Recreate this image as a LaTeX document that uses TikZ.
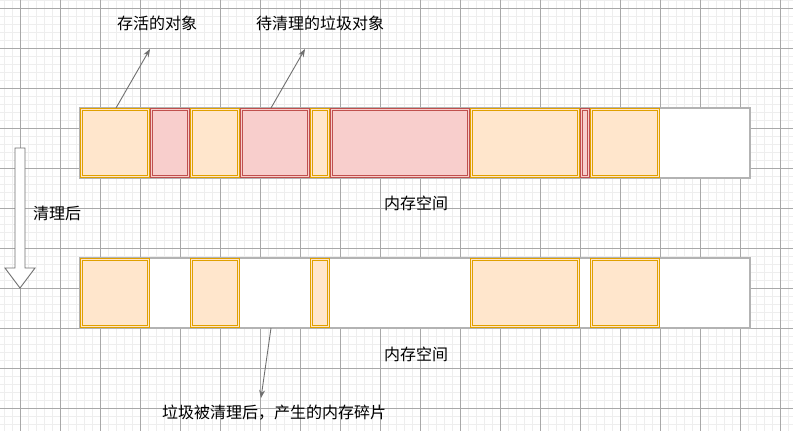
\documentclass[tikz,border=0pt]{standalone}
\usepackage{fontspec}
\setmainfont{Noto Sans CJK SC}
\usetikzlibrary{arrows.meta}
\definecolor{minorc}{HTML}{EEEEEE}
\definecolor{majorc}{HTML}{A8A8A8}
\definecolor{livefill}{HTML}{FFE6CC}
\definecolor{livedraw}{HTML}{E0A000}
\definecolor{deadfill}{HTML}{F8CECC}
\definecolor{deaddraw}{HTML}{C0504D}
\definecolor{barc}{HTML}{B3B3B3}
\definecolor{arrc}{HTML}{707070}
\tikzset{
  lbl/.style={font=\fontsize{16}{18}\selectfont, text=black, inner sep=0pt},
  bar/.style={draw=barc, line width=1.6pt, fill=white, inner sep=0pt, outer sep=0pt, minimum height=70pt, anchor=north west},
  live/.style={draw=livedraw, double=livefill, double distance=1.4pt, line width=0.9pt, fill=livefill, inner sep=0pt, outer sep=1.6pt, minimum height=66.8pt, anchor=center},
  dead/.style={draw=deaddraw, double=deadfill, double distance=1.4pt, line width=0.9pt, fill=deadfill, inner sep=0pt, outer sep=1.6pt, minimum height=66.8pt, anchor=center},
  ptr/.style={draw=arrc, line width=0.9pt, -{Stealth[length=8pt,width=6pt]}},
}
\newcommand{\blk}[5]{% style, name, x1, x2, ycenter
  \pgfmathsetmacro{\blkw}{#4-#3-3.2}
  \node[#1, minimum width=\blkw pt] (#2) at ({(#3+#4)/2},#5) {};
}
\begin{document}
\begin{tikzpicture}[x=1pt,y=-1pt]
\useasboundingbox (0,0) rectangle (793,431);
\fill[white] (0,0) rectangle (793,431);
% grid
\foreach \x in {4,12,...,796} \draw[minorc, line width=0.8pt] (\x,0) -- (\x,431);
\foreach \y in {0,8,...,432} \draw[minorc, line width=0.8pt] (0,\y) -- (793,\y);
\foreach \x in {20,60,...,780} \draw[majorc, line width=0.8pt] (\x,0) -- (\x,431);
\foreach \y in {8,48,...,408} \draw[majorc, line width=0.8pt] (0,\y) -- (793,\y);

% top bar
\node[bar, minimum width=670pt] (bar1) at (80,108) {};
\blk{live}{t1}{80}{150}{143}
\blk{dead}{t2}{150}{190}{143}
\blk{live}{t3}{190}{240}{143}
\blk{dead}{t4}{240}{310}{143}
\blk{live}{t5}{310}{330}{143}
\blk{dead}{t6}{330}{470}{143}
\blk{live}{t7}{470}{580}{143}
\blk{dead}{t8}{580}{590}{143}
\blk{live}{t9}{590}{660}{143}

% bottom bar
\node[bar, minimum width=670pt] (bar2) at (80,258) {};
\blk{live}{b1}{80}{150}{293}
\blk{live}{b3}{190}{240}{293}
\blk{live}{b5}{310}{330}{293}
\blk{live}{b7}{470}{580}{293}
\blk{live}{b9}{590}{660}{293}

% labels
\node[lbl] (lalive) at (157,23) {存活的对象};
\node[lbl] (lgarb) at (320,23) {待清理的垃圾对象};
\node[lbl] (mem1) at (416,203) {内存空间};
\node[lbl] (mem2) at (416,354) {内存空间};
\node[lbl] (lafter) at (57,213) {清理后};
\node[lbl] (lfrag) at (274,413) {垃圾被清理后，产生的内存碎片};

% pointer arrows
\coordinate (p1s) at (116,108);
\coordinate (p1e) at (150,49);
\coordinate (p2s) at (271,108);
\coordinate (p2e) at (305,49);
\coordinate (p3s) at (271,328);
\coordinate (p3e) at (261,398);
\draw[ptr] (p1s) -- (p1e);
\draw[ptr] (p2s) -- (p2e);
\draw[ptr] (p3s) -- (p3e);

% big hollow arrow
\draw[draw=arrc, line width=0.9pt, fill=white, line join=miter]
  (15,148) -- (25,148) -- (25,268) -- (35,268) -- (20,288) -- (5,268) -- (15,268) -- cycle;
\end{tikzpicture}
\end{document}
